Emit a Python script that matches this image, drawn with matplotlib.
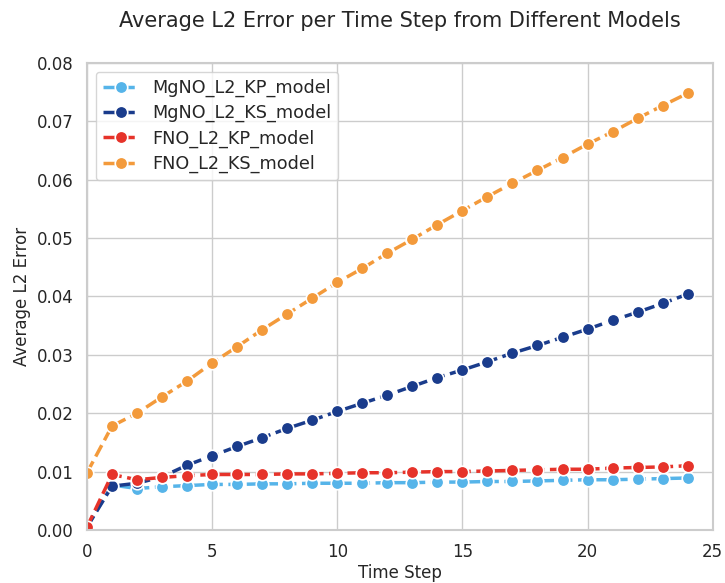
import numpy as np
import matplotlib
matplotlib.use('Agg')
import matplotlib.pyplot as plt
import seaborn as sns

sns.set_theme(style='whitegrid')
plt.rcParams['font.family'] = ['DejaVu Sans']

# Time steps and per-model average L2 error
time_steps = list(range(25))

mgno_kp = [0.0005, 0.0077, 0.0071, 0.0074, 0.0076, 0.0078, 0.0078, 0.0079, 0.0079,
           0.0080, 0.0080, 0.0080, 0.0081, 0.0081, 0.0082, 0.0082, 0.0083, 0.0083,
           0.0084, 0.0085, 0.0086, 0.0086, 0.0087, 0.0088, 0.0089]
mgno_ks = [0.0005, 0.0075, 0.0080, 0.0091, 0.0111, 0.0127, 0.0143, 0.0158, 0.0174,
           0.0188, 0.0203, 0.0217, 0.0231, 0.0246, 0.0261, 0.0274, 0.0288, 0.0303,
           0.0316, 0.0330, 0.0344, 0.0359, 0.0373, 0.0388, 0.0404]
fno_kp = [0.0005, 0.0095, 0.0086, 0.0090, 0.0093, 0.0095, 0.0095, 0.0095, 0.0096,
          0.0096, 0.0097, 0.0098, 0.0098, 0.0099, 0.0100, 0.0100, 0.0101, 0.0102,
          0.0103, 0.0104, 0.0104, 0.0106, 0.0107, 0.0108, 0.0110]
fno_ks = [0.0098, 0.0178, 0.0200, 0.0228, 0.0255, 0.0286, 0.0314, 0.0343, 0.0370,
          0.0397, 0.0424, 0.0448, 0.0474, 0.0498, 0.0523, 0.0547, 0.0571, 0.0594,
          0.0616, 0.0638, 0.0661, 0.0682, 0.0705, 0.0727, 0.0748]

labels = ['MgNO_L2_KP_model', 'MgNO_L2_KS_model', 'FNO_L2_KP_model', 'FNO_L2_KS_model']
colors = ['#56b4e9', '#1a3c8c', '#e6332a', '#f39a3b']

fig, ax = plt.subplots(figsize=(7.25, 5.83), dpi=100)
fig.subplots_adjust(left=0.12, right=0.983, top=0.892, bottom=0.091)

for series, label, color in zip([mgno_kp, mgno_ks, fno_kp, fno_ks], labels, colors):
    ax.plot(time_steps, series, linestyle='--', marker='o', color=color, label=label,
            linewidth=2.5, markersize=9, markeredgecolor='white', markeredgewidth=1.2)

ax.set_xlim(0, 25)
ax.set_ylim(0, 0.08)
ax.set_xticks([0, 5, 10, 15, 20, 25])
ax.set_yticks(np.arange(0, 0.081, 0.01))
ax.set_yticklabels([f'{v:.2f}' for v in np.arange(0, 0.081, 0.01)])
ax.tick_params(labelsize=12)
ax.set_xlabel('Time Step', fontsize=12, labelpad=2)
ax.set_ylabel('Average L2 Error', fontsize=12)
ax.set_title('Average L2 Error per Time Step from Different Models', fontsize=15, pad=26)
ax.legend(loc='upper left', fontsize=12.7, labelspacing=0.4)

for s in ax.spines.values():
    s.set_color('#cccccc')
    s.set_linewidth(1.5)

plt.savefig('out.png', dpi=100)
